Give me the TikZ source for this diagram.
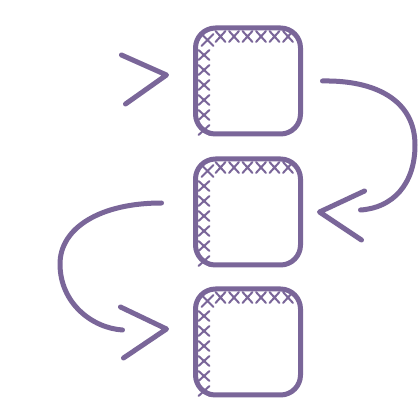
\documentclass[tikz,border=0pt]{standalone}
\usetikzlibrary{calc}
\definecolor{pur}{HTML}{7A6699}
\begin{document}
\begin{tikzpicture}[x=1pt,y=-1pt,
  box/.style={draw=pur,line width=5pt,rounded corners=20pt,minimum width=105pt,minimum height=106pt,inner sep=0pt,outer sep=0pt},
  conn/.style={draw=pur,line width=5pt,line cap=round,line join=round},
  hatch/.style={draw=pur,line width=2pt,line cap=round}]
\useasboundingbox[fill=white] (0,0) rectangle (418,403);
\node[box] (b1) at (248,81) {};
\node[box] (b2) at (248,212) {};
\node[box] (b3) at (248,342) {};
\foreach \b in {b1,b2,b3}{
  \draw[hatch] ([shift={(6,6)}]\b.north west) -- ++(12,12) ++(0,-12) -- ++(-12,12);
  \foreach \i in {0,...,5}{
    \draw[hatch] ([shift={(20+13.5*\i,3)}]\b.north west) -- ++(10,11) ++(0,-11) -- ++(-10,11);
  }
  \foreach \j in {0,...,5}{
    \draw[hatch] ([shift={(3,22+15*\j)}]\b.north west) -- ++(11,10) ++(0,-10) -- ++(-11,10);
  }
}
% input chevron
\coordinate (t1) at ([shift={(-29,-6)}]b1.west);
\draw[conn] (t1) ++(-45,-20) -- (t1) -- ++(-41,29);
% b1 -> b2
\coordinate (s2) at ([xshift=22pt]b1.east);
\coordinate (e2) at ([shift={(60,-2)}]b2.east);
\coordinate (t2) at ([xshift=19pt]b2.east);
\draw[conn] (s2) .. controls (375,80) and (415,100) .. (415,145) .. controls (415,185) and (392,208) .. (e2);
\draw[conn] (t2) ++(45,-21) -- (t2) -- ++(42,28);
% b2 -> b3
\coordinate (s3) at ([shift={(-34,-9)}]b2.west);
\coordinate (e3) at ([shift={(-73,-12)}]b3.west);
\coordinate (t3) at ([shift={(-29,-13)}]b3.west);
\draw[conn] (s3) .. controls (100,203) and (60,228) .. (60,264) .. controls (60,303) and (92,328) .. (e3);
\draw[conn] (t3) ++(-46,-22) -- (t3) -- ++(-43,29);
\end{tikzpicture}
\end{document}
